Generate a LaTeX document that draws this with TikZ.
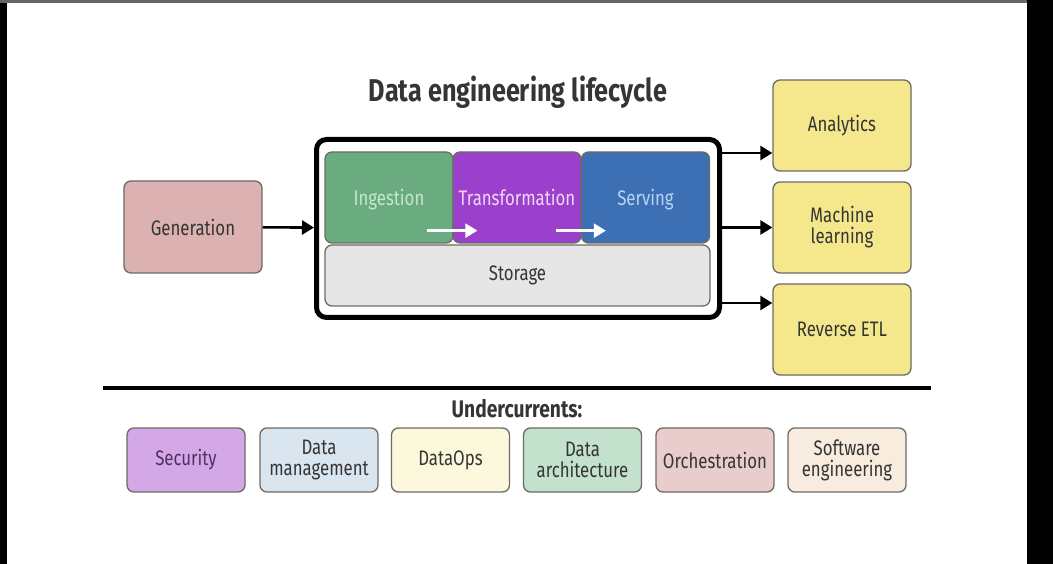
\documentclass[tikz,border=0pt]{standalone}
\usepackage{fontspec}
\setmainfont[FakeStretch=0.8]{Fira Sans}
\newfontfamily\headfont[FakeStretch=0.8]{Fira Sans}
\usetikzlibrary{arrows.meta}
\definecolor{edge}{HTML}{6E6A66}
\definecolor{txt}{HTML}{353535}
\definecolor{genf}{HTML}{DBB1B1}
\definecolor{ingf}{HTML}{6AAB80}
\definecolor{ingt}{HTML}{C6E8CE}
\definecolor{trff}{HTML}{9B40CC}
\definecolor{trft}{HTML}{F2D6F6}
\definecolor{srvf}{HTML}{3C6FB3}
\definecolor{srvt}{HTML}{B6D4F4}
\definecolor{stof}{HTML}{E6E6E6}
\definecolor{outf}{HTML}{F5E78C}
\definecolor{secf}{HTML}{D4A7E7}
\definecolor{sect}{HTML}{4D3262}
\definecolor{dmf}{HTML}{D9E5EF}
\definecolor{dof}{HTML}{FBF8DC}
\definecolor{daf}{HTML}{C3E1CD}
\definecolor{orf}{HTML}{E9CDCD}
\definecolor{sef}{HTML}{F7ECDD}
\begin{document}
\begin{tikzpicture}
  [x=1pt,y=-1pt,every node/.style={align=center,text=txt,font=\fontsize{21}{21}\selectfont}]
  \tikzstyle{box} = [draw=edge,line width=1.3pt,rounded corners=7pt,inner sep=0pt]
  \tikzstyle{stage} = [box,minimum width=128pt,minimum height=91pt,text depth=0pt]
  \tikzstyle{use} = [box,fill=outf,minimum width=138pt,minimum height=91pt]
  \tikzstyle{under} = [box,minimum width=118pt,minimum height=64pt]
  \tikzstyle{arr} = [line width=2.6pt,-{Triangle[length=12pt,width=14pt]}]
  \tikzstyle{warr} = [white,line width=2.6pt,-{Triangle[length=12pt,width=14pt]}]

  % screen frame
  \fill[white] (0,0) rectangle (1053,564);
  \fill[black] (0,0) rectangle (7,564);
  \fill[black!60] (0,0) rectangle (1053,3);
  \fill[black] (1027,0) rectangle (1053,564);

  \node[font=\fontsize{31.5}{32}\headfont\bfseries] (title) at (518,92) {Data engineering lifecycle};
  \node[box,fill=genf,minimum width=138pt,minimum height=92pt] (gen) at (193,227) {Generation};
  \node[draw=black,line width=5pt,rounded corners=10pt,minimum width=403pt,minimum height=178pt] (lc) at (518,228.5) {};

  \node[stage,fill=ingf,text=ingt] (ing) at (389,197.5) {Ingestion};
  \node[stage,fill=trff,text=trft] (trf) at (517,197.5) {Transformation};
  \node[stage,fill=srvf,text=srvt] (srv) at (645.5,197.5) {Serving};
  \node[box,fill=stof,minimum width=385pt,minimum height=61pt] (sto) at (517.5,275.5) {Storage};

  \node[use] (ana) at (842,125.5) {Analytics};
  \node[use] (ml) at (842,227.5) {Machine\\learning};
  \node[use] (retl) at (842,329.5) {Reverse ETL};

  \draw[arr] (gen) -- (lc);
  \foreach \dest/\dy in {ana/-27.5,ml/0,retl/26.5} {
    \coordinate (t\dest) at ([yshift=\dy pt]\dest.west);
    \draw[arr] (lc.east |- t\dest) -- (t\dest);
  }
  \draw[warr] ([xshift=-27pt,yshift=13pt]ing.south east) -- ([xshift=25pt,yshift=13pt]trf.south west);
  \draw[warr] ([xshift=-26pt,yshift=13pt]trf.south east) -- ([xshift=25pt,yshift=13pt]srv.south west);

  % undercurrents
  \draw[line width=3.5pt] (103,388) -- (931,388);
  \node[font=\fontsize{24}{24}\headfont\bfseries] (uc) at (517,409) {Undercurrents:};
  \foreach \name/\x/\col/\tc/\txt in {sec/186/secf/sect/Security,dm/319/dmf/txt/Data\\management,
      dops/450.5/dof/txt/DataOps,darc/582.5/daf/txt/Data\\architecture,
      orch/715/orf/txt/Orchestration,swe/847/sef/txt/Software\\engineering}
    \node[under,fill=\col,text=\tc] (\name) at (\x,460) {\txt};

\end{tikzpicture}
\end{document}
